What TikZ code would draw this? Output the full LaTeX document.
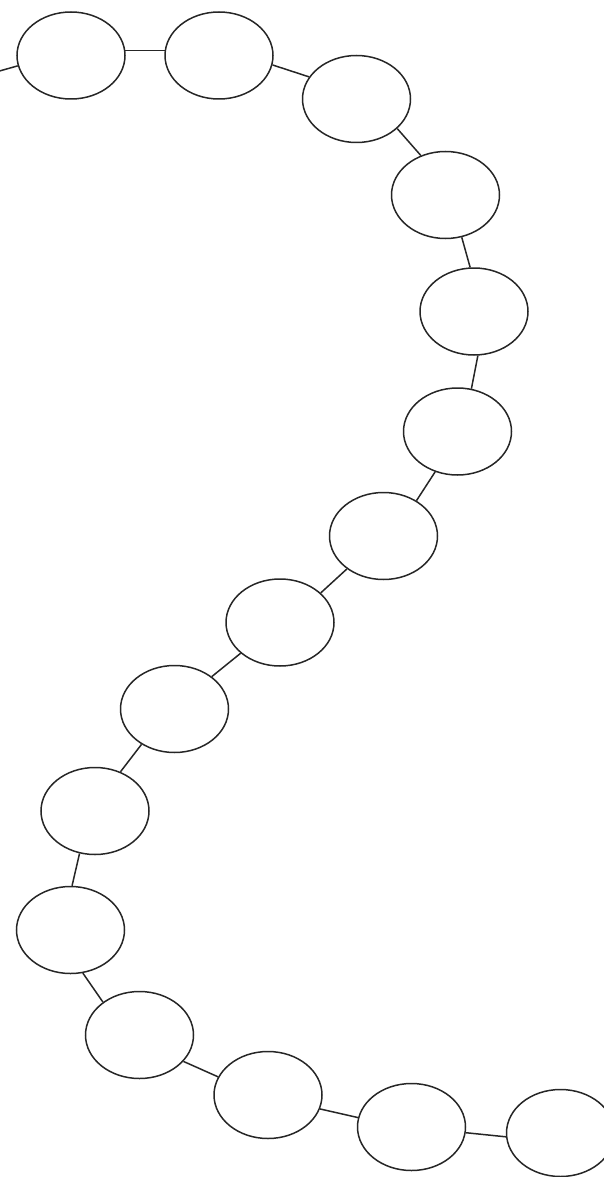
\documentclass[tikz,border=0pt]{standalone}
\usetikzlibrary{shapes.geometric}
\begin{document}
\begin{tikzpicture}[x=1pt,y=-1pt,
  bead/.style={draw=black!85,line width=1.5pt,ellipse,minimum width=108pt,minimum height=87pt,inner sep=0pt},
  link/.style={draw=black!85,line width=1.5pt}]
\useasboundingbox (0,0) rectangle (603,1177);
\node[bead] (e1) at (71,55.5) {};
\node[bead] (e2) at (219,55.5) {};
\node[bead] (e3) at (356.5,99) {};
\node[bead] (e4) at (445.5,195) {};
\node[bead] (e5) at (474,311.5) {};
\node[bead] (e6) at (457.5,431.5) {};
\node[bead] (e7) at (383.5,536) {};
\node[bead] (e8) at (280,622.5) {};
\node[bead] (e9) at (174.5,709) {};
\node[bead] (e10) at (95,811) {};
\node[bead] (e11) at (70.5,930) {};
\node[bead] (e12) at (139.5,1035) {};
\node[bead] (e13) at (268,1095) {};
\node[bead] (e14) at (411.5,1127) {};
\node[bead] (e15) at (560.5,1133) {};
\coordinate (start) at (-4,72);
\draw[link] (start) -- (e1.191);
\draw[link] (e1.5) -- (e2.175);
\draw[link] (e2.350) -- (e3.155);
\draw[link] (e3.324) -- (e4.122);
\draw[link] (e4.291) -- (e5.95);
\draw[link] (e5.275) -- (e6.72);
\draw[link] (e6.241) -- (e7.47);
\draw[link] (e7.222) -- (e8.36);
\draw[link] (e8.218) -- (e9.41);
\draw[link] (e9.227) -- (e10.57);
\draw[link] (e10.250) -- (e11.88);
\draw[link] (e11.286) -- (e12.138);
\draw[link] (e12.329) -- (e13.160);
\draw[link] (e13.345) -- (e14.170);
\draw[link] (e14.354) -- (e15.184);
\end{tikzpicture}
\end{document}
